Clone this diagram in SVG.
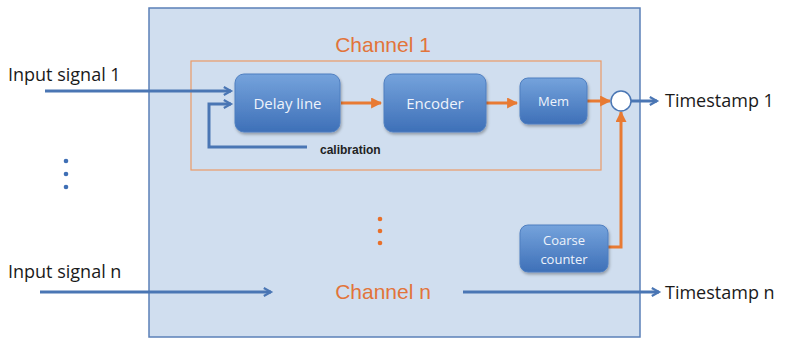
<svg xmlns="http://www.w3.org/2000/svg" width="786" height="339" viewBox="0 0 786 339">
<defs>
<linearGradient id="bg" x1="0" y1="0" x2="0" y2="1">
<stop offset="0" stop-color="#75a3dc"/>
<stop offset="1" stop-color="#3e70b8"/>
</linearGradient>
<marker id="ab" viewBox="0 0 10 10" refX="9" refY="5" markerWidth="9" markerHeight="11" orient="auto" markerUnits="userSpaceOnUse" style="overflow:visible">
<path d="M1,0.5 L9,5 L1,9.5" fill="none" stroke="#4a76b4" stroke-width="2.4"/>
</marker>
<marker id="ao" viewBox="0 0 10 10" refX="9" refY="5" markerWidth="11" markerHeight="11" orient="auto" markerUnits="userSpaceOnUse">
<path d="M0,0 L10,5 L0,10 Z" fill="#e87a33"/>
</marker>
<filter id="sh" x="-10%" y="-10%" width="130%" height="140%">
<feDropShadow dx="1" dy="2" stdDeviation="1.5" flood-color="#000" flood-opacity="0.3"/>
</filter>
</defs>
<style>
.lbl{font-family:"Open Sans","Liberation Sans",sans-serif;font-size:18px;fill:#1a1a1a}
.ch{font-family:"Liberation Sans",Arial,sans-serif;font-size:21px;fill:#e2743a}
.bx{fill:url(#bg);stroke:#4f7fc0;stroke-width:1;filter:url(#sh)}
.bt{font-family:"Open Sans","Liberation Sans",sans-serif;font-size:15px;fill:#eef3fb;text-anchor:middle}
.bl{fill:none;stroke:#4a76b4;stroke-width:3}
.or{fill:none;stroke:#e87a33;stroke-width:3}
</style>
<rect x="149" y="8" width="491" height="329" fill="#d0deef" stroke="#5b80b8" stroke-width="1.5"/>
<text class="ch" x="383" y="52" text-anchor="middle">Channel 1</text>
<rect x="191" y="61" width="410" height="109" fill="none" stroke="#eb9a66" stroke-width="1.2"/>
<text class="ch" x="383" y="299" text-anchor="middle">Channel n</text>
<g id="connectors">
<path class="bl" d="M45,91 H231" marker-end="url(#ab)"/>
<path class="bl" d="M307,147 H209 V104 H231" marker-end="url(#ab)"/>
<path class="or" d="M341,103 H381" marker-end="url(#ao)"/>
<path class="or" d="M486,103 H517" marker-end="url(#ao)"/>
<path class="or" d="M587,101 H610" marker-end="url(#ao)"/>
<path class="or" d="M608,247 H621 V112" marker-end="url(#ao)"/>
<path class="bl" d="M631,101 H657" marker-end="url(#ab)"/>
<path class="bl" d="M40,292 H271" marker-end="url(#ab)"/>
<path class="bl" d="M463,292 H659" marker-end="url(#ab)"/>
</g>
<g id="delay"><rect class="bx" x="235" y="74" width="105" height="58" rx="9"/><text class="bt" x="287.5" y="109">Delay line</text></g>
<g id="encoder"><rect class="bx" x="384" y="74" width="102" height="58" rx="9"/><text class="bt" x="435" y="109">Encoder</text></g>
<g id="mem"><rect class="bx" x="520" y="78" width="67" height="46" rx="8"/><text class="bt" x="553.5" y="106" style="font-size:13px">Mem</text></g>
<g id="adder"><circle cx="621" cy="101" r="10" fill="#fff" stroke="#4a76b4" stroke-width="1.5"/></g>
<g id="coarse"><rect class="bx" x="520" y="225" width="88" height="47" rx="8"/><text class="bt" x="564" y="245" style="font-size:13px">Coarse</text><text class="bt" x="564" y="264" style="font-size:13px">counter</text></g>
<text x="320" y="154" font-family="Liberation Sans,Arial,sans-serif" font-size="12" font-weight="bold" fill="#222">calibration</text>
<g id="dots" fill="#3f6fb5"><circle cx="66" cy="161" r="2.3"/><circle cx="66" cy="174" r="2.3"/><circle cx="66" cy="187" r="2.3"/></g>
<g id="odots" fill="#e8702a"><circle cx="380" cy="219" r="2.3"/><circle cx="380" cy="231" r="2.3"/><circle cx="380" cy="243" r="2.3"/></g>
<text class="lbl" x="8" y="81">Input signal 1</text>
<text class="lbl" x="8" y="278">Input signal n</text>
<text class="lbl" x="665" y="107">Timestamp 1</text>
<text class="lbl" x="665" y="299">Timestamp n</text>
</svg>
